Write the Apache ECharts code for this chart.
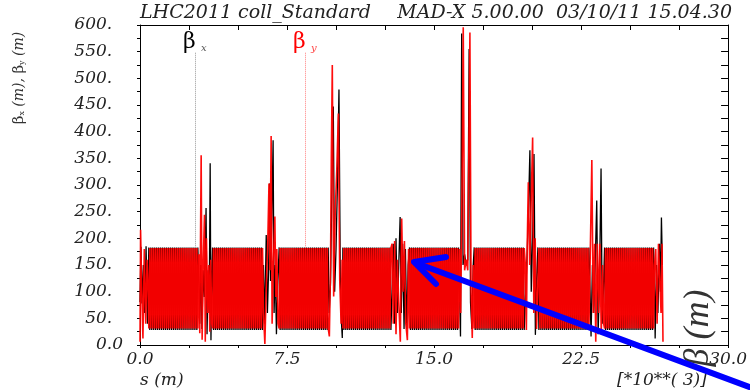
<!DOCTYPE html>
<html><head><meta charset="utf-8">
<script src="https://cdn.jsdelivr.net/npm/echarts@6/dist/echarts.min.js"></script>
<style>html,body{margin:0;padding:0;background:#fff}#c{width:750px;height:390px}</style>
</head><body><div id="c"></div>
<script>
// tick labels
const xLabelValues = [0, 7.5, 15, 22.5, 30];
const xLabelTexts = ['0.0', '7.5', '15.0', '22.5', '30.0'];
const yLabelValues = [0, 50, 100, 150, 200, 250, 300, 350, 400, 450, 500, 550, 600];
const yLabelTexts = ['0.0', '50.', '100.', '150.', '200.', '250.', '300.', '350.', '400.', '450.', '500.', '550.', '600.'];

// arc (FODO) samples: [s (10^3 m), beta_x, beta_y]
const arcRows = [
[0.45,183,31],[0.5,28,182],[0.55,183,31],[0.6,28,182],[0.65,183,31],[0.7,28,182],[0.75,183,31],[0.8,28,182],[0.85,183,31],[0.9,28,182],[0.95,183,31],[1,28,182],[1.05,183,31],[1.1,28,182],[1.15,183,31],[1.2,28,182],[1.25,183,31],[1.3,28,182],[1.35,183,31],[1.4,28,182],[1.45,183,31],[1.5,28,182],[1.55,183,31],[1.6,28,182],[1.65,183,31],[1.7,28,182],[1.75,183,31],[1.8,28,182],[1.85,183,31],[1.9,28,182],[1.95,183,31],[2,28,182],[2.05,183,31],[2.1,28,182],[2.15,183,31],[2.2,28,182],[2.25,183,31],[2.3,28,182],[2.35,183,31],[2.4,28,182],[2.45,183,31],[2.5,28,182],[2.55,183,31],[2.6,28,182],[2.65,183,31],[2.7,28,182],[2.75,183,31],[2.8,28,182],[2.85,183,31],[2.9,28,182],[2.95,183,31],
[3.7,183,31],[3.75,28,182],[3.8,183,31],[3.85,28,182],[3.9,183,31],[3.95,28,182],[4,183,31],[4.05,28,182],[4.1,183,31],[4.15,28,182],[4.2,183,31],[4.25,28,182],[4.3,183,31],[4.35,28,182],[4.4,183,31],[4.45,28,182],[4.5,183,31],[4.55,28,182],[4.6,183,31],[4.65,28,182],[4.7,183,31],[4.75,28,182],[4.8,183,31],[4.85,28,182],[4.9,183,31],[4.95,28,182],[5,183,31],[5.05,28,182],[5.1,183,31],[5.15,28,182],[5.2,183,31],[5.25,28,182],[5.3,183,31],[5.35,28,182],[5.4,183,31],[5.45,28,182],[5.5,183,31],[5.55,28,182],[5.6,183,31],[5.65,28,182],[5.7,183,31],[5.75,28,182],[5.8,183,31],[5.85,28,182],[5.9,183,31],[5.95,28,182],[6,183,31],[6.05,28,182],[6.1,183,31],[6.15,28,182],[6.2,183,31],[6.25,28,182],
[7.1,183,31],[7.15,28,182],[7.2,183,31],[7.25,28,182],[7.3,183,31],[7.35,28,182],[7.4,183,31],[7.45,28,182],[7.5,183,31],[7.55,28,182],[7.6,183,31],[7.65,28,182],[7.7,183,31],[7.75,28,182],[7.8,183,31],[7.85,28,182],[7.9,183,31],[7.95,28,182],[8,183,31],[8.05,28,182],[8.1,183,31],[8.15,28,182],[8.2,183,31],[8.25,28,182],[8.3,183,31],[8.35,28,182],[8.4,183,31],[8.45,28,182],[8.5,183,31],[8.55,28,182],[8.6,183,31],[8.65,28,182],[8.7,183,31],[8.75,28,182],[8.8,183,31],[8.85,28,182],[8.9,183,31],[8.95,28,182],[9,183,31],[9.05,28,182],[9.1,183,31],[9.15,28,182],[9.2,183,31],[9.25,28,182],[9.3,183,31],[9.35,28,182],[9.4,183,31],[9.45,28,182],[9.5,183,31],[9.55,28,182],[9.6,183,31],
[10.35,183,31],[10.4,28,182],[10.45,183,31],[10.5,28,182],[10.55,183,31],[10.6,28,182],[10.65,183,31],[10.7,28,182],[10.75,183,31],[10.8,28,182],[10.85,183,31],[10.9,28,182],[10.95,183,31],[11,28,182],[11.05,183,31],[11.1,28,182],[11.15,183,31],[11.2,28,182],[11.25,183,31],[11.3,28,182],[11.35,183,31],[11.4,28,182],[11.45,183,31],[11.5,28,182],[11.55,183,31],[11.6,28,182],[11.65,183,31],[11.7,28,182],[11.75,183,31],[11.8,28,182],[11.85,183,31],[11.9,28,182],[11.95,183,31],[12,28,182],[12.05,183,31],[12.1,28,182],[12.15,183,31],[12.2,28,182],[12.25,183,31],[12.3,28,182],[12.35,183,31],[12.4,28,182],[12.45,183,31],[12.5,28,182],[12.55,183,31],[12.6,28,182],[12.65,183,31],[12.7,28,182],[12.75,183,31],[12.8,28,182],
[13.75,183,31],[13.8,28,182],[13.85,183,31],[13.9,28,182],[13.95,183,31],[14,28,182],[14.05,183,31],[14.1,28,182],[14.15,183,31],[14.2,28,182],[14.25,183,31],[14.3,28,182],[14.35,183,31],[14.4,28,182],[14.45,183,31],[14.5,28,182],[14.55,183,31],[14.6,28,182],[14.65,183,31],[14.7,28,182],[14.75,183,31],[14.8,28,182],[14.85,183,31],[14.9,28,182],[14.95,183,31],[15,28,182],[15.05,183,31],[15.1,28,182],[15.15,183,31],[15.2,28,182],[15.25,183,31],[15.3,28,182],[15.35,183,31],[15.4,28,182],[15.45,183,31],[15.5,28,182],[15.55,183,31],[15.6,28,182],[15.65,183,31],[15.7,28,182],[15.75,183,31],[15.8,28,182],[15.85,183,31],[15.9,28,182],[15.95,183,31],[16,28,182],[16.05,183,31],[16.1,28,182],[16.15,183,31],[16.2,28,182],[16.25,183,31],
[17.05,183,31],[17.1,28,182],[17.15,183,31],[17.2,28,182],[17.25,183,31],[17.3,28,182],[17.35,183,31],[17.4,28,182],[17.45,183,31],[17.5,28,182],[17.55,183,31],[17.6,28,182],[17.65,183,31],[17.7,28,182],[17.75,183,31],[17.8,28,182],[17.85,183,31],[17.9,28,182],[17.95,183,31],[18,28,182],[18.05,183,31],[18.1,28,182],[18.15,183,31],[18.2,28,182],[18.25,183,31],[18.3,28,182],[18.35,183,31],[18.4,28,182],[18.45,183,31],[18.5,28,182],[18.55,183,31],[18.6,28,182],[18.65,183,31],[18.7,28,182],[18.75,183,31],[18.8,28,182],[18.85,183,31],[18.9,28,182],[18.95,183,31],[19,28,182],[19.05,183,31],[19.1,28,182],[19.15,183,31],[19.2,28,182],[19.25,183,31],[19.3,28,182],[19.35,183,31],[19.4,28,182],[19.45,183,31],[19.5,28,182],[19.55,183,31],[19.6,28,182],
[20.3,183,31],[20.35,28,182],[20.4,183,31],[20.45,28,182],[20.5,183,31],[20.55,28,182],[20.6,183,31],[20.65,28,182],[20.7,183,31],[20.75,28,182],[20.8,183,31],[20.85,28,182],[20.9,183,31],[20.95,28,182],[21,183,31],[21.05,28,182],[21.1,183,31],[21.15,28,182],[21.2,183,31],[21.25,28,182],[21.3,183,31],[21.35,28,182],[21.4,183,31],[21.45,28,182],[21.5,183,31],[21.55,28,182],[21.6,183,31],[21.65,28,182],[21.7,183,31],[21.75,28,182],[21.8,183,31],[21.85,28,182],[21.9,183,31],[21.95,28,182],[22,183,31],[22.05,28,182],[22.1,183,31],[22.15,28,182],[22.2,183,31],[22.25,28,182],[22.3,183,31],[22.35,28,182],[22.4,183,31],[22.45,28,182],[22.5,183,31],[22.55,28,182],[22.6,183,31],[22.65,28,182],[22.7,183,31],[22.75,28,182],[22.8,183,31],[22.85,28,182],[22.9,183,31],
[23.7,183,31],[23.75,28,182],[23.8,183,31],[23.85,28,182],[23.9,183,31],[23.95,28,182],[24,183,31],[24.05,28,182],[24.1,183,31],[24.15,28,182],[24.2,183,31],[24.25,28,182],[24.3,183,31],[24.35,28,182],[24.4,183,31],[24.45,28,182],[24.5,183,31],[24.55,28,182],[24.6,183,31],[24.65,28,182],[24.7,183,31],[24.75,28,182],[24.8,183,31],[24.85,28,182],[24.9,183,31],[24.95,28,182],[25,183,31],[25.05,28,182],[25.1,183,31],[25.15,28,182],[25.2,183,31],[25.25,28,182],[25.3,183,31],[25.35,28,182],[25.4,183,31],[25.45,28,182],[25.5,183,31],[25.55,28,182],[25.6,183,31],[25.65,28,182],[25.7,183,31],[25.75,28,182],[25.8,183,31],[25.85,28,182],[25.9,183,31],[25.95,28,182],[26,183,31],[26.05,28,182],[26.1,183,31],[26.15,28,182],[26.2,183,31]
];

// insertion regions, beta_x: [s, beta]
const irBetaX = [
[0,80],[0.05,184],[0.1,78],[0.17,150],[0.24,60],[0.31,185],[0.38,40],
[3.0,120],[3.05,40],[3.1,150],[3.16,30],[3.22,140],[3.28,90],[3.37,257],[3.42,20],[3.48,140],[3.53,60],[3.58,341],[3.62,9],[3.66,120],
[6.3,150],[6.36,40],[6.44,206],[6.5,60],[6.56,140],[6.61,303],[6.66,120],[6.73,250],[6.79,384],[6.84,60],[6.9,150],[6.96,20],[7.03,120],
[9.65,60],[9.72,116],[9.79,300],[9.86,447],[9.93,100],[10.0,180],[10.07,300],[10.15,479],[10.22,120],[10.28,40],[10.32,13],
[12.86,100],[12.92,190],[12.99,40],[13.06,200],[13.13,60],[13.2,150],[13.27,240],[13.33,60],[13.4,190],[13.47,30],[13.54,180],[13.61,30],[13.68,150],
[16.3,100],[16.35,16],[16.41,584],[16.48,150],[16.56,170],[16.64,150],[16.72,160],[16.79,555],[16.86,80],[16.93,30],[17.0,150],
[19.66,30],[19.73,150],[19.81,241],[19.89,365],[19.96,100],[20.03,200],[20.1,358],[20.17,19],[20.23,120],
[22.96,100],[23.01,16],[23.08,150],[23.15,60],[23.22,150],[23.3,271],[23.37,20],[23.44,120],[23.52,331],[23.58,40],[23.64,100],
[26.25,100],[26.28,12],[26.35,150],[26.42,60],[26.5,190],[26.55,100],[26.6,239],[26.65,150]
];
// insertion regions, beta_y: [s, beta]
const irBetaY = [
[0,6],[0.03,216],[0.09,100],[0.15,12],[0.22,180],[0.29,40],[0.36,160],[0.4,120],
[3.0,170],[3.05,22],[3.12,356],[3.17,10],[3.23,160],[3.29,244],[3.33,6],[3.39,200],[3.45,60],[3.51,150],[3.56,25],[3.61,160],[3.66,40],
[6.3,60],[6.37,2],[6.45,120],[6.51,180],[6.58,303],[6.63,140],[6.69,392],[6.74,40],[6.8,150],[6.88,241],[6.93,90],[6.98,180],[7.04,40],
[9.66,16],[9.72,150],[9.76,350],[9.81,525],[9.88,91],[9.96,250],[10.04,330],[10.12,434],[10.19,120],[10.26,40],[10.31,160],
[12.86,190],[12.92,40],[12.99,195],[13.06,20],[13.13,160],[13.2,80],[13.28,6],[13.35,237],[13.42,100],[13.49,195],[13.56,40],[13.64,9],[13.7,180],
[16.3,180],[16.36,60],[16.43,300],[16.49,596],[16.56,140],[16.64,160],[16.72,140],[16.83,586],[16.89,100],[16.95,13],[17.0,150],
[19.66,150],[19.71,28],[19.76,200],[19.81,305],[19.88,150],[20.03,389],[20.09,60],[20.16,200],[20.23,30],
[22.96,150],[23.05,347],[23.12,60],[23.19,190],[23.25,6],[23.33,190],[23.4,60],[23.46,190],[23.53,20],[23.6,150],[23.65,40],
[26.25,150],[26.31,180],[26.38,40],[26.45,190],[26.52,188],[26.58,60],[26.63,190],[26.68,6]
];
// legend marker positions [s, beta top, beta bottom]
const legendMarkX = [2.83, 548, 183];
const legendMarkY = [8.45, 548, 183];

const byS = (a, b) => a[0] - b[0];
const seriesX = arcRows.map(r => [r[0], r[1]]).concat(irBetaX).sort(byS);
const seriesY = arcRows.map(r => [r[0], r[2]]).concat(irBetaY).sort(byS);

const FONT = '"DejaVu Serif"';
const chart = echarts.init(document.getElementById('c'), null, {renderer: 'canvas'});
const xFmt = v => { const i = xLabelValues.findIndex(t => Math.abs(t - v) < 1e-6); return i < 0 ? '' : xLabelTexts[i]; };
const yFmt = v => { const i = yLabelValues.findIndex(t => Math.abs(t - v) < 1e-6); if (i < 0) return ''; const t = yLabelTexts[i]; return t.endsWith('.') ? t + '{h|0}' : t; };
const axisCommon = {
  type: 'value',
  axisLine: {show: true, onZero: false, lineStyle: {color: '#000', width: 1}},
  splitLine: {show: false}
};
chart.setOption({
  animation: false,
  backgroundColor: '#fff',
  grid: {left: 140, right: 17, top: 25, bottom: 45, show: false},
  xAxis: [
    Object.assign({}, axisCommon, {position: 'bottom', min: 0, max: 30, interval: 2.5,
      axisTick: {show: true, inside: false, length: 3, lineStyle: {color: '#000'}},
      axisLabel: {formatter: xFmt, fontFamily: FONT, fontStyle: 'italic', fontSize: 17, color: '#222', margin: 6, showMaxLabel: true, showMinLabel: true, hideOverlap: false}}),
    Object.assign({}, axisCommon, {position: 'top', min: 0, max: 30, interval: 2.5,
      axisTick: {show: true, inside: true, length: 5, lineStyle: {color: '#000'}},
      axisLabel: {show: false}})
  ],
  yAxis: [
    Object.assign({}, axisCommon, {position: 'left', min: 0, max: 600, interval: 25,
      axisTick: {show: true, inside: false, length: 3, lineStyle: {color: '#000'}},
      axisLabel: {formatter: yFmt, fontFamily: FONT, fontStyle: 'italic', fontSize: 17, color: '#222', margin: 17, hideOverlap: false,
        rich: {h: {fontFamily: FONT, fontStyle: 'italic', fontSize: 17, color: 'rgba(0,0,0,0)'}}}}),
    Object.assign({}, axisCommon, {position: 'right', min: 0, max: 600, interval: 25,
      axisTick: {show: true, inside: true, length: 7, lineStyle: {color: '#000'}},
      axisLabel: {show: false}})
  ],
  series: [
    {type: 'line', name: 'betx', data: seriesX, showSymbol: false, symbol: 'none',
      lineStyle: {color: '#000', width: 1.3}, z: 2,
      markLine: {symbol: 'none', silent: true, label: {show: false},
        lineStyle: {type: 'dotted', color: '#999', width: 1},
        data: [[{coord: [legendMarkX[0], legendMarkX[1]]}, {coord: [legendMarkX[0], legendMarkX[2]]}]]}},
    {type: 'line', name: 'bety', data: seriesY, showSymbol: false, symbol: 'none',
      lineStyle: {color: '#ff0000', width: 1.6, opacity: 0.95}, z: 3,
      markLine: {symbol: 'none', silent: true, label: {show: false},
        lineStyle: {type: 'dotted', color: '#ff8080', width: 1},
        data: [[{coord: [legendMarkY[0], legendMarkY[1]]}, {coord: [legendMarkY[0], legendMarkY[2]]}]]}}
  ],
  graphic: [
    {type: 'text', left: 140, top: 4, style: {text: 'LHC2011 coll_Standard', font: 'italic 19px ' + FONT, fill: '#222'}},
    {type: 'text', right: 18, top: 4, style: {text: 'MAD-X 5.00.00  03/10/11 15.04.30', font: 'italic 19px ' + FONT, fill: '#222'}},
    {type: 'text', left: 183, top: 31, style: {text: 'β', font: '22px ' + FONT, fill: '#000'}},
    {type: 'text', left: 201, top: 43, style: {text: 'x', font: 'italic 10px ' + FONT, fill: '#555'}},
    {type: 'text', left: 293, top: 31, style: {text: 'β', font: '22px ' + FONT, fill: '#ff0000'}},
    {type: 'text', left: 311, top: 43, style: {text: 'y', font: 'italic 10px ' + FONT, fill: '#ff4040'}},
    {type: 'text', x: 19, y: 78, rotation: Math.PI / 2,
      style: {text: '{b|β}{s|x}{n| (m), }{b|β}{s|y}{n| (m)}', align: 'center', verticalAlign: 'middle',
        rich: {b: {fontSize: 15, fontFamily: FONT, fill: '#333'}, s: {fontSize: 8, fontFamily: FONT, fill: '#333', padding: [6, 0, 0, 0]}, n: {fontSize: 14, fontFamily: FONT, fontStyle: 'italic', fill: '#333'}}}},
    {type: 'text', left: 140, top: 372, style: {text: 's (m)', font: 'italic 17px ' + FONT, fill: '#222'}},
    {type: 'text', left: 617, top: 372, style: {text: '[*10**( 3)]', font: 'italic 17px ' + FONT, fill: '#222'}},
    {type: 'text', x: 699, y: 328, rotation: Math.PI / 2, z: 50,
      style: {text: 'β (m)', font: 'italic 36px "Liberation Serif"', fill: '#333', align: 'center', verticalAlign: 'middle'}},
    {type: 'line', z: 100, shape: {x1: 760, y1: 391, x2: 416, y2: 263}, style: {stroke: '#0000ff', lineWidth: 6, lineCap: 'round'}},
    {type: 'polyline', z: 100, shape: {points: [[446, 257], [414, 262], [436, 284]]}, style: {stroke: '#0000ff', fill: null, lineWidth: 6, lineCap: 'round', lineJoin: 'round'}}
  ]
});
</script></body></html>
